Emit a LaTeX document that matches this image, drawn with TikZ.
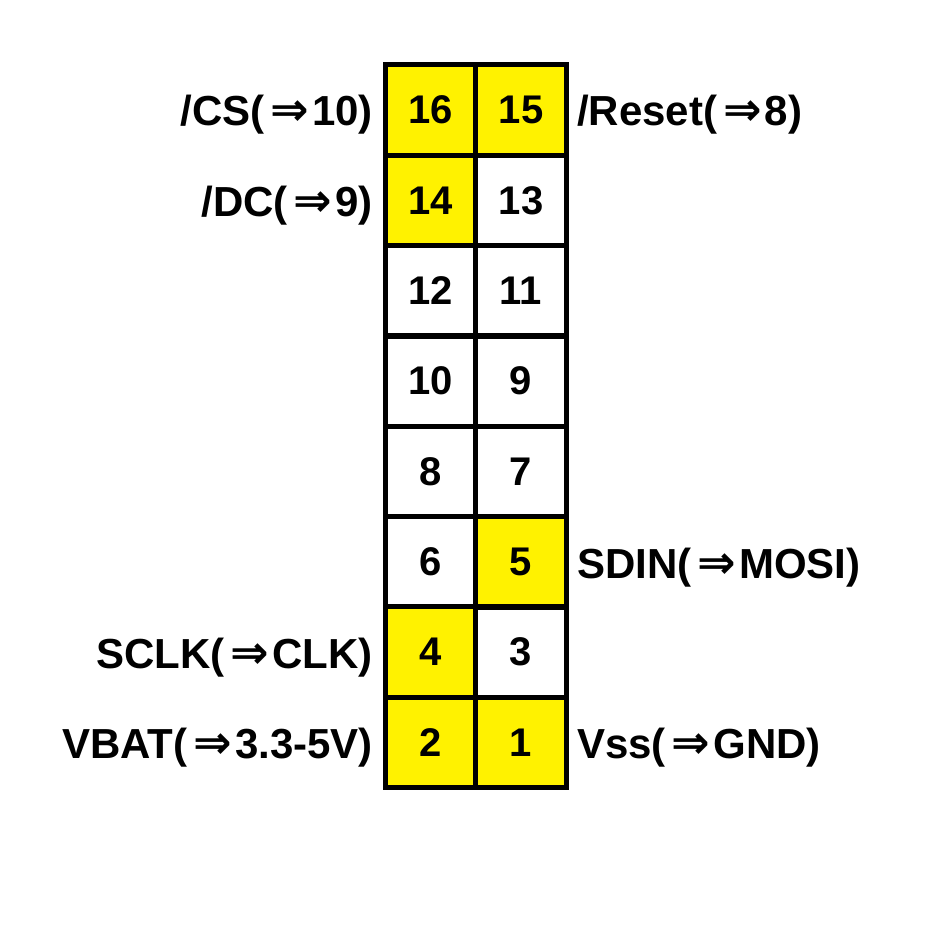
\documentclass[tikz,border=0pt]{standalone}
\usepackage{fontspec}
\setmainfont{Liberation Sans}
\newfontfamily\arrowfont{DejaVu Sans}
\newcommand{\arr}{\hspace{6pt}{\arrowfont\bfseries\fontsize{46}{46}\selectfont ⇒}\hspace{3pt}}
\begin{document}
\begin{tikzpicture}[x=1pt,y=-1pt,
  cell/.style={draw=black,line width=5pt,minimum width=90.5pt,minimum height=90.4pt,inner sep=0pt,font=\fontsize{40}{40}\selectfont\bfseries,anchor=center},
  on/.style={fill=yellow},
  lbl/.style={font=\fontsize{42}{42}\selectfont\bfseries,inner sep=0pt}]
\useasboundingbox (0,0) rectangle (945,925);
\node[cell,on] (c16) at (430.5,110) {16};
\node[cell,on] (c15) at (521,110) {15};
\node[cell,on] (c14) at (430.5,200.5) {14};
\node[cell] (c13) at (521,200.5) {13};
\node[cell] (c12) at (430.5,291) {12};
\node[cell] (c11) at (521,291) {11};
\node[cell] (c10) at (430.5,381) {10};
\node[cell] (c9) at (521,381) {9};
\node[cell] (c8) at (430.5,471.5) {8};
\node[cell] (c7) at (521,471.5) {7};
\node[cell] (c6) at (430.5,562) {6};
\node[cell,on] (c5) at (521,562) {5};
\node[cell,on] (c4) at (430.5,652) {4};
\node[cell] (c3) at (521,652) {3};
\node[cell,on] (c2) at (430.5,742.5) {2};
\node[cell,on] (c1) at (521,742.5) {1};
\node[lbl,anchor=base east] (l16) at (373,126) {/CS(\arr10)};
\node[lbl,anchor=base east] (l14) at (373,216.5) {/DC(\arr9)};
\node[lbl,anchor=base east] (l4) at (373,668) {SCLK(\arr CLK)};
\node[lbl,anchor=base east] (l2) at (373,758.5) {VBAT(\arr3.3-5V)};
\node[lbl,anchor=base west] (l15) at (577,126) {/Reset(\arr8)};
\node[lbl,anchor=base west] (l5) at (577,578) {SDIN(\arr MOSI)};
\node[lbl,anchor=base west] (l1) at (577,758.5) {Vss(\arr GND)};
\end{tikzpicture}
\end{document}
